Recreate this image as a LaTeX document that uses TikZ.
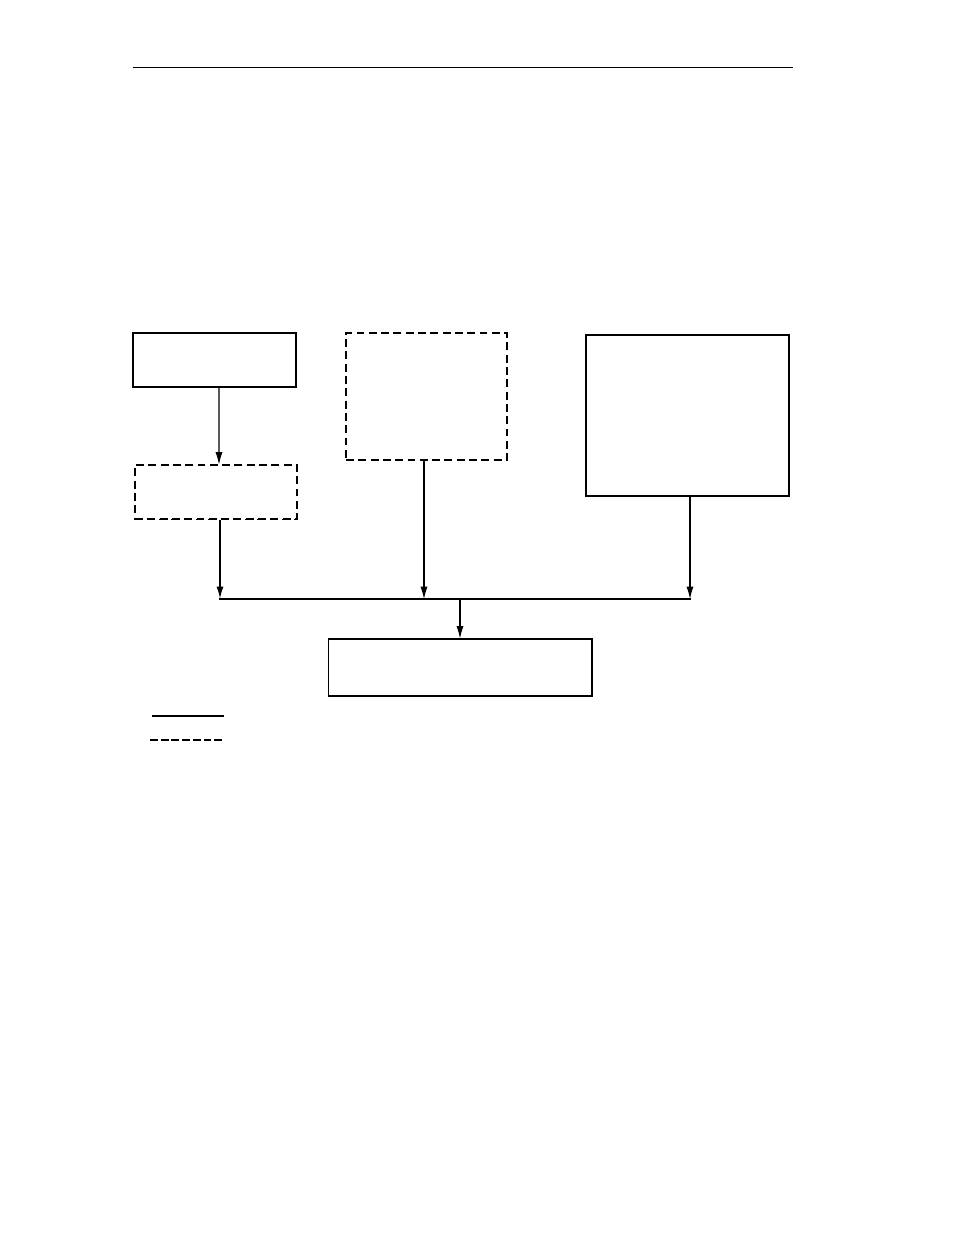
\documentclass[tikz,border=0pt]{standalone}
\usepackage{tikz}
\usetikzlibrary{shapes,arrows.meta,positioning,calc}

\tikzset{
  solidbox/.style={rectangle,draw,line width=0.6pt},
  dashbox/.style={rectangle,draw,line width=0.6pt,dash pattern=on 4.5pt off 2.5pt},
  flow/.style={-{Latex[length=7pt,width=4pt]},line width=0.6pt}
}

\begin{document}
\begin{tikzpicture}[x=0.02cm,y=-0.02cm]
  \useasboundingbox (0,0) rectangle (954,1235);

  % Page rule
  \coordinate (ruleL) at (133,67);
  \coordinate (ruleR) at (793,67);
  \draw[line width=0.5pt] (ruleL) -- (ruleR);

  % Boxes
  \node[solidbox,minimum width=3.26cm,minimum height=1.08cm] (A) at (214.5,360) {};
  \node[dashbox,minimum width=3.24cm,minimum height=1.08cm] (B) at (216,492) {};
  \node[dashbox,minimum width=3.22cm,minimum height=2.54cm] (C) at (426.5,396.5) {};
  \node[solidbox,minimum width=4.06cm,minimum height=3.22cm] (D) at (687.5,415.5) {};
  \node[solidbox,minimum width=5.28cm,minimum height=1.14cm] (E) at (460,667.5) {};

  % Thicker lower edge of B
  \draw[line width=1.1pt,dash pattern=on 4.5pt off 2.5pt] (B.south west) -- (B.south east);

  % Bus
  \coordinate (busL) at (219,599);
  \coordinate (busR) at (691,599);
  \coordinate (busM) at (460,599);
  \draw[line width=0.8pt] (busL) -- (busR);

  % Arrows
  \draw[flow] ([xshift=0.09cm]A.south) -- ([xshift=0.06cm]B.north);
  \draw[flow,line width=1pt] ([xshift=0.08cm]B.south) -- ([xshift=0.08cm]B.south |- busL);
  \draw[flow] ([xshift=-0.05cm]C.south) -- ([xshift=-0.05cm]C.south |- busL);
  \draw[flow] ([xshift=0.05cm]D.south) -- ([xshift=0.05cm]D.south |- busL);
  \draw[flow] (busM) -- (E.north);

  % Legend
  \coordinate (legA1) at (152,716);
  \coordinate (legA2) at (224,716);
  \coordinate (legB1) at (150,740);
  \coordinate (legB2) at (222,740);
  \draw[line width=0.6pt] (legA1) -- (legA2);
  \draw[line width=1.2pt,dash pattern=on 4.5pt off 1.6pt] (legB1) -- (legB2);

\end{tikzpicture}
\end{document}
